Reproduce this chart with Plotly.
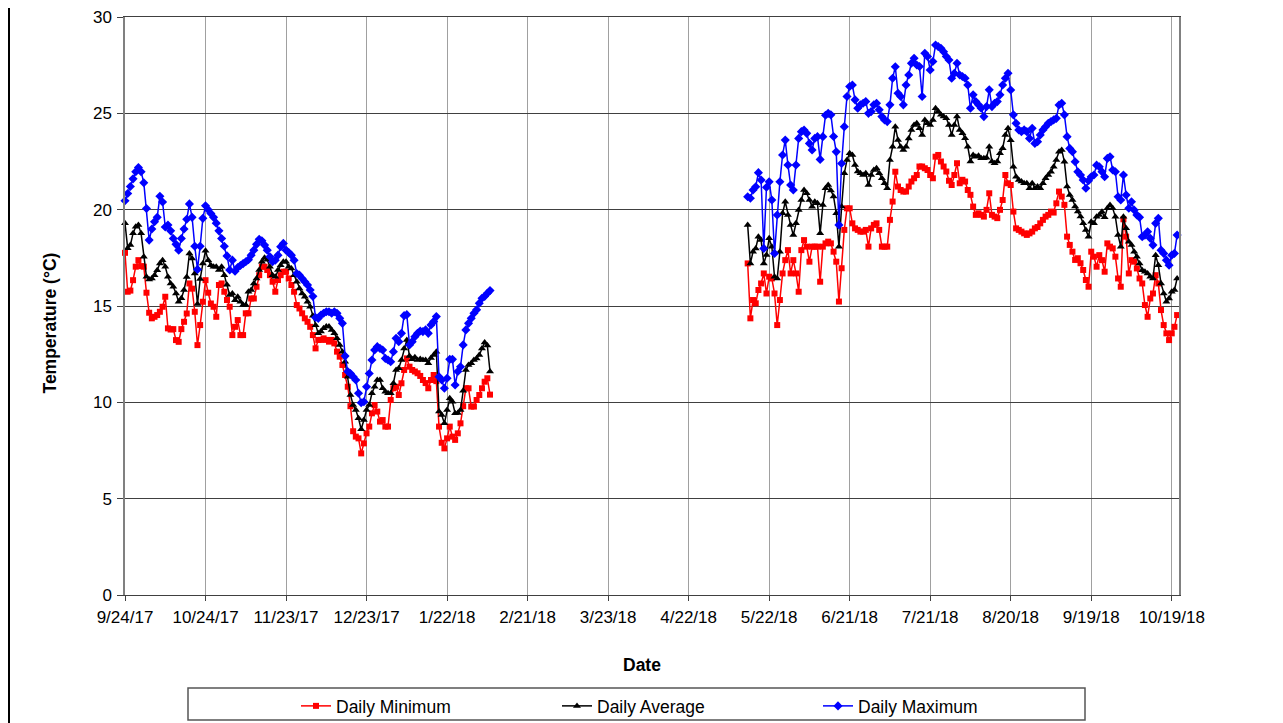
import pandas as pd
import plotly.graph_objects as go

# ---------------- data ----------------
seg1_start = "2017-09-24"
seg2_start = "2018-05-14"

max_seg1 = [20.46, 20.84, 21.2, 21.6, 21.97, 22.19, 21.97, 21.4, 20.06, 18.42,
            19.0, 19.37, 19.6, 20.7, 20.4, 19.1, 19.2, 18.9, 18.5, 18.2,
            17.9, 18.5, 19.0, 19.5, 20.3, 19.6, 18.1, 16.9, 18.1, 19.55,
            20.2, 20.0, 19.8, 19.6, 19.3, 18.9, 18.5, 18.1, 17.6,
            16.87, 17.38, 16.8, 17.0, 17.1, 17.2, 17.3, 17.4, 17.64, 17.9,
            18.2, 18.46, 18.39, 18.16, 17.9, 17.56, 17.3, 17.38, 17.64, 18.08,
            18.25, 17.9, 17.78, 17.64, 17.38, 16.69, 16.6, 16.43, 16.26, 16.09,
            15.83, 15.5, 14.4,
            14.36, 14.53, 14.62, 14.7, 14.7, 14.62, 14.7, 14.62, 14.36, 14.1,
            12.4, 11.6, 11.5, 11.33, 11.16, 10.47, 9.98, 10.03, 10.81, 11.5,
            12.2, 12.72, 12.89, 12.8, 12.72, 12.28, 12.2, 12.11, 12.63, 13.32,
            13.15, 13.58, 14.5, 14.55, 12.98, 13.15, 13.41, 13.58, 13.7, 13.67,
            13.76, 13.58, 14.02, 14.19, 14.45,
            11.33, 11.16, 10.73, 11.25, 12.23, 12.23, 10.9, 11.6, 11.85, 12.98,
            13.76, 14.1, 14.36, 14.62, 14.8, 15.14, 15.4, 15.5, 15.66, 15.8]

avg_seg1 = [19.3, 18.0, 18.16, 18.77, 19.11, 19.2, 18.77, 17.56, 16.52, 16.38,
            16.43, 16.6, 16.86, 17.21, 17.38, 17.04, 16.52, 16.17, 16.0, 15.65,
            15.22, 15.4, 15.83, 16.5, 17.73, 17.47, 16.69, 15.1, 16.4, 17.2,
            17.87, 17.38, 17.12, 17.04,
            17.04, 16.87, 17.04, 16.6, 16.1, 15.57, 15.65, 15.3, 15.48, 15.22,
            15.05, 15.05, 15.74, 15.83, 16.17, 16.43, 16.87, 17.3, 17.5, 17.4,
            17.04, 16.6, 16.52, 16.87, 17.12, 17.3, 17.3, 17.04, 16.95, 16.6,
            16.26, 15.91, 15.65, 15.48, 15.22, 14.96, 14.5, 14.0,
            13.58, 13.67, 13.84, 13.93, 13.93, 13.75, 13.58, 13.32, 12.98, 12.63,
            12.11, 11.33, 10.38, 9.86, 9.6, 9.17, 8.6, 9.08, 9.6, 9.86,
            10.47, 10.81, 11.16, 11.16, 10.73, 10.55, 10.47, 10.47, 10.99, 11.68,
            11.77, 12.2, 12.8, 13.24,
            12.4, 12.23, 12.34, 12.2, 12.25, 12.2, 12.2, 12.03, 12.3, 12.46,
            12.63, 9.52, 9.34, 8.91, 9.6, 10.21, 10.03, 9.43, 9.45, 9.6,
            10.6, 11.68, 11.94, 12.03, 12.2, 12.28, 12.46, 12.8, 13.1, 12.95,
            11.6]

min_seg1 = [17.76, 15.74, 15.8, 16.34, 17.04, 17.38, 17.07, 17.04, 15.69, 14.65,
            14.36, 14.44, 14.53, 14.7, 14.96, 15.48, 13.84, 13.78, 13.8, 13.23,
            13.14, 13.8, 14.18, 14.61, 16.17, 15.9, 14.7, 12.97, 14.01, 15.22,
            16.34, 15.69, 15.13, 14.96,
            14.44, 16.09, 16.17, 15.74, 15.31, 14.96, 13.49, 13.92, 14.27, 13.49,
            13.49, 14.62, 14.62, 15.39, 15.39, 16.0, 16.6, 17.04, 17.04, 16.87,
            16.6, 16.26, 15.74, 16.35, 16.6, 16.78, 16.78, 16.43, 16.09, 15.74,
            15.05, 14.87, 14.62, 14.36, 14.18, 13.92, 13.49, 12.8,
            13.24, 13.24, 13.32, 13.24, 13.15, 13.24, 13.06, 12.63, 12.37, 11.94,
            11.42, 10.81, 9.8, 8.5, 8.22, 8.13, 7.35, 7.87, 8.39, 8.74,
            9.43, 9.86, 9.52, 9.0, 9.08, 8.74, 8.74, 10.12, 10.73, 10.81,
            10.38, 10.99, 11.68, 12.28,
            11.85, 11.68, 11.6, 11.51, 11.37, 11.16, 11.0, 10.73, 11.16, 11.42,
            11.1, 8.74, 7.9, 7.61, 8.13, 8.74, 8.22, 8.05, 8.39, 8.91,
            9.8, 10.73, 10.73, 9.78, 9.78, 10.12, 10.38, 10.73, 11.07, 11.25,
            10.4]

max_seg2 = [20.67, 20.59, 21.02, 21.19, 21.92, 21.54, 17.99, 21.16, 21.45, 20.5,
            17.73, 19.72, 21.45, 22.84, 23.61, 22.32, 21.28, 21.02, 22.32, 23.7,
            24.05, 24.13, 23.96, 23.44, 23.1, 23.7, 23.79, 22.61, 23.79, 24.9,
            25.0, 24.92,
            23.8, 23.0, 19.21, 22.4, 24.31, 25.87, 26.39, 26.47, 25.7, 25.26,
            25.44, 25.52, 25.61, 25.0, 25.09, 25.44, 25.52, 25.18, 24.83, 24.66,
            24.57, 25.44, 26.82, 27.42, 26.04, 25.87, 25.44, 26.47, 26.99, 27.6,
            27.86, 27.51,
            27.43, 25.87, 28.12, 27.95, 27.25, 27.69, 28.55, 28.46, 28.38, 28.2,
            27.95, 27.77, 26.82, 27.08, 27.6, 26.99, 26.91, 26.82, 26.47, 25.26,
            25.96, 25.61, 25.44, 25.26, 24.83, 25.35, 26.22, 25.35, 25.52, 25.61,
            25.96, 26.47,
            26.82, 27.08, 26.21, 24.92, 24.48, 24.14, 24.05, 24.14, 24.05, 23.7,
            24.22, 23.44, 23.53, 23.88, 24.14, 24.31, 24.48, 24.57, 24.66, 24.74,
            25.43, 25.52, 24.92, 23.79, 23.18, 23.01, 22.49, 21.97, 21.8, 21.54,
            21.11, 21.5,
            21.71, 21.8, 22.31, 22.23, 21.97, 21.71, 22.66, 22.75, 22.06, 21.97,
            20.67, 20.5, 21.8, 20.76, 20.07, 20.41, 19.98, 19.72, 19.6, 18.6,
            18.68, 18.85, 18.51, 18.16, 19.29, 19.55, 17.9, 17.73, 17.38, 17.12,
            17.64, 17.73, 18.68]

avg_seg2 = [19.2, 17.21, 17.82, 17.99, 18.6, 18.42, 17.21, 17.65, 18.51, 18.08,
            16.52, 16.43, 17.82, 19.81, 20.41, 19.72, 19.2, 18.68, 19.29, 19.98,
            20.5, 21.02, 20.85, 20.5, 20.15, 20.41, 20.33, 18.77, 20.24, 21.11,
            21.28, 21.0,
            20.68, 19.81, 18.08, 20.16, 21.89, 22.58, 22.93, 22.84, 22.32, 21.98,
            21.89, 21.8, 21.89, 21.28, 21.8, 22.06, 22.15, 21.89, 21.63, 21.37,
            21.11, 22.58, 23.27, 24.31, 23.62, 23.27, 23.1, 23.27, 23.7, 24.14,
            24.4, 24.48,
            24.23, 23.88, 24.66, 24.49, 24.4, 24.66, 25.26, 25.09, 24.92, 24.83,
            24.74, 24.4, 23.88, 24.4, 24.83, 24.14, 23.97, 23.71, 23.27, 22.5,
            22.84, 22.75, 22.8, 22.67, 22.67, 22.7, 23.27, 22.5, 22.41, 22.5,
            22.93, 23.19,
            23.88, 24.22, 23.6, 22.23, 21.71, 21.54, 21.46, 21.37, 21.37, 21.11,
            21.37, 21.11, 21.2, 21.11, 21.37, 21.63, 21.8, 21.97, 22.23, 22.58,
            23.01, 23.1, 22.49, 21.2, 20.76, 20.5, 20.16, 19.9, 19.64, 19.29,
            18.95, 18.6,
            19.37, 19.29, 19.63, 19.72, 19.89, 19.6, 20.07, 20.24, 20.07, 19.63,
            18.68, 18.08, 19.63, 19.03, 18.34, 18.16, 17.82, 17.56, 17.21, 16.86,
            16.78, 16.69, 16.52, 16.43, 17.64, 17.12, 16.17, 15.65, 15.22, 15.39,
            15.74, 15.83, 16.43]

min_seg2 = [17.21, 14.36, 15.31, 15.14, 15.83, 16.17, 16.69, 15.65, 16.52, 16.43,
            15.65, 14.01, 15.31, 16.69, 17.38, 17.9, 16.69, 17.38, 16.69, 15.74,
            17.9, 18.42, 18.08, 17.3, 18.08, 18.08, 18.08, 16.26, 18.08, 18.25,
            18.34, 18.25,
            17.82, 17.3, 15.23, 16.96, 18.95, 20.07, 20.07, 19.29, 19.03, 18.95,
            18.86, 18.86, 18.95, 18.08, 19.03, 19.21, 19.29, 18.95, 18.08, 18.08,
            18.08, 19.47, 20.42, 21.97, 21.2, 21.02, 20.94, 20.94, 21.2, 21.46,
            21.63, 21.8,
            22.24, 22.24, 22.15, 22.06, 21.8, 21.63, 22.75, 22.84, 22.5, 22.24,
            21.98, 21.5, 21.28, 21.8, 22.41, 21.37, 21.55, 21.46, 21.02, 20.77,
            20.16, 19.73, 19.81, 19.73, 19.64, 19.99, 20.85, 19.73, 19.64, 19.56,
            19.99, 20.5,
            21.8, 21.37, 21.28, 19.9, 19.03, 18.95, 18.86, 18.77, 18.69, 18.77,
            18.86, 19.03, 19.1, 19.29, 19.47, 19.64, 19.73, 19.9, 19.85, 20.33,
            20.94, 20.68, 20.25, 18.6, 18.17, 17.82, 17.39, 17.48, 17.22, 16.87,
            16.35, 16.0,
            17.82, 17.56, 17.04, 17.64, 17.38, 16.78, 18.25, 18.08, 17.99, 17.56,
            16.43, 16.0, 19.5, 18.6, 16.69, 17.38, 17.3, 16.95, 16.43, 16.17,
            15.05, 14.44, 15.39, 15.65, 16.6, 16.17, 14.79, 14.01, 13.58, 13.23,
            13.58, 13.92, 14.53]

tick_dates = ["2017-09-24", "2017-10-24", "2017-11-23", "2017-12-23", "2018-01-22",
              "2018-02-21", "2018-03-23", "2018-04-22", "2018-05-22", "2018-06-21",
              "2018-07-21", "2018-08-20", "2018-09-19", "2018-10-19"]
tick_labels = ["9/24/17", "10/24/17", "11/23/17", "12/23/17", "1/22/18", "2/21/18",
               "3/23/18", "4/22/18", "5/22/18", "6/21/18", "7/21/18", "8/20/18",
               "9/19/18", "10/19/18"]

series_names = ["Daily Minimum", "Daily Average", "Daily Maximum"]
x_title = "Date"
y_title = "Temperature (°C)"

# ---------------- build ----------------
def build(seg1, seg2):
    d1 = list(pd.date_range(seg1_start, periods=len(seg1), freq="D"))
    d2 = list(pd.date_range(seg2_start, periods=len(seg2), freq="D"))
    return d1 + [None] + d2, list(seg1) + [None] + list(seg2)

FONT = "Liberation Sans, Arial, sans-serif"
fig = go.Figure()

styles = [
    (min_seg1, min_seg2, "#FF0000", "square", 6),
    (avg_seg1, avg_seg2, "#000000", "triangle-up", 7),
    (max_seg1, max_seg2, "#0000FF", "diamond", 7),
]
for name, (s1, s2, col, sym, sz) in zip(series_names, styles):
    x, y = build(s1, s2)
    fig.add_trace(go.Scatter(
        x=x, y=y, name=name, mode="lines+markers",
        line=dict(color=col, width=1.5),
        marker=dict(symbol=sym, size=sz, color=col, line=dict(width=0)),
        connectgaps=False, cliponaxis=False,
    ))

# plot area (page pixels): x 125..1179, y 17..595 ; page body has an 8px offset
PL, PR, PT, PB = 125, 1179, 17, 595
PW, PH = PR - PL, PB - PT
def px(xp):
    return (xp - PL) / PW
def py(yp):
    return (PB - yp) / PH

fig.update_layout(
    width=1283, height=723,
    margin=dict(l=PL - 8, r=1283 - PR + 8, t=PT - 8, b=723 - PB + 8, autoexpand=False),
    paper_bgcolor="white", plot_bgcolor="white",
    font=dict(family=FONT, size=16, color="black"),
    showlegend=True,
    legend=dict(orientation="h", x=px(296), y=py(706), xanchor="left", yanchor="middle",
                bgcolor="rgba(0,0,0,0)", borderwidth=0,
                entrywidth=216, entrywidthmode="pixels",
                font=dict(family=FONT, size=17.5)),
    shapes=[
        dict(type="rect", xref="paper", yref="paper",
             x0=px(188), x1=px(1085), y0=py(720), y1=py(688),
             line=dict(color="#555555", width=1.5)),
        dict(type="line", xref="paper", yref="paper",
             x0=px(9), x1=px(9), y0=py(730), y1=py(-10),
             line=dict(color="black", width=2)),
    ],
    annotations=[
        dict(text="<b>" + y_title + "</b>", xref="paper", yref="paper",
             x=px(49.5), y=py(323), textangle=-90, showarrow=False,
             xanchor="center", yanchor="middle",
             font=dict(family=FONT, size=17.5)),
        dict(text="<b>" + x_title + "</b>", xref="paper", yref="paper",
             x=px(642), y=py(665), showarrow=False,
             xanchor="center", yanchor="middle",
             font=dict(family=FONT, size=17.5)),
    ],
)

fig.update_xaxes(
    type="date",
    range=["2017-09-24", "2018-10-21 16:48"],
    tickvals=tick_dates, ticktext=tick_labels,
    ticks="outside", ticklen=5, tickcolor="#404040",
    ticklabelstandoff=2, ticklabeloverflow="allow",
    tickfont=dict(family=FONT, size=17),
    showgrid=True, gridcolor="#A0A0A0", gridwidth=1,
    showline=True, linecolor="#404040", linewidth=1, mirror=True,
    zeroline=False,
)
fig.update_yaxes(
    range=[0, 30], dtick=5, tick0=0,
    ticks="outside", ticklen=6, tickcolor="#404040",
    ticklabelstandoff=2, ticklabeloverflow="allow",
    tickfont=dict(family=FONT, size=17),
    showgrid=True, gridcolor="#404040", gridwidth=1,
    showline=True, linecolor="#808080", linewidth=1.5, mirror=True,
    zeroline=False,
)

fig.write_html("out.html")
